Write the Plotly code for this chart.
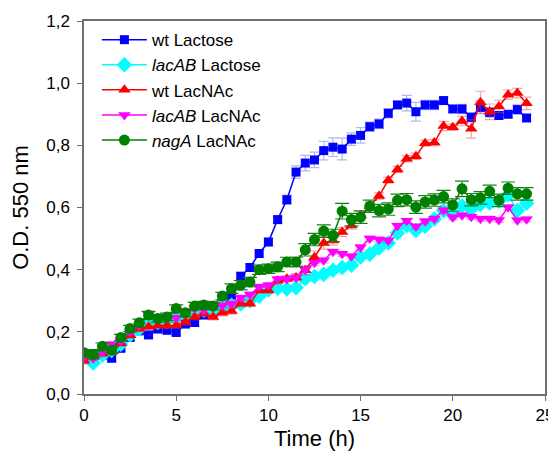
import plotly.graph_objects as go

time_h = [i * 0.5 for i in range(49)]

wt_lactose = [0.130, 0.130, 0.125, 0.115, 0.147, 0.182, 0.203, 0.190, 0.209, 0.205,
              0.198, 0.225, 0.230, 0.254, 0.262, 0.280, 0.318, 0.379, 0.407, 0.452,
              0.489, 0.561, 0.625, 0.714, 0.743, 0.753, 0.783, 0.794, 0.788, 0.820,
              0.832, 0.860, 0.869, 0.903, 0.930, 0.936, 0.908, 0.930, 0.930, 0.944,
              0.917, 0.917, 0.890, 0.922, 0.906, 0.896, 0.900, 0.915, 0.888]
wt_lactose_err = [0.010, 0.010, 0.010, 0.010, 0.010, 0.010, 0.010, 0.010, 0.010, 0.010,
                  0.010, 0.010, 0.010, 0.010, 0.010, 0.010, 0.010, 0.010, 0.010, 0.012,
                  0.012, 0.012, 0.015, 0.020, 0.025, 0.025, 0.030, 0.030, 0.035, 0.020,
                  0.025, 0.015, 0.015, 0.015, 0.010, 0.025, 0.030, 0.015, 0.015, 0.010,
                  0.010, 0.015, 0.015, 0.020, 0.015, 0.010, 0.010, 0.015, 0.010]

lacab_lactose = [0.120, 0.100, 0.125, 0.140, 0.160, 0.190, 0.210, 0.230, 0.230, 0.235,
                 0.245, 0.255, 0.265, 0.270, 0.265, 0.280, 0.285, 0.290, 0.300, 0.315,
                 0.335, 0.340, 0.338, 0.342, 0.371, 0.378, 0.385, 0.398, 0.407, 0.414,
                 0.441, 0.450, 0.470, 0.486, 0.518, 0.542, 0.526, 0.540, 0.563, 0.590,
                 0.577, 0.605, 0.595, 0.610, 0.615, 0.620, 0.640, 0.590, 0.614]
lacab_lactose_err = [0.008] * 49

wt_lacnac = [0.107, 0.120, 0.130, 0.136, 0.163, 0.189, 0.210, 0.216, 0.220, 0.220,
             0.221, 0.232, 0.248, 0.259, 0.248, 0.261, 0.267, 0.291, 0.291, 0.334,
             0.334, 0.364, 0.371, 0.375, 0.398, 0.440, 0.486, 0.494, 0.521, 0.542,
             0.575, 0.605, 0.637, 0.688, 0.722, 0.757, 0.765, 0.807, 0.809, 0.862,
             0.858, 0.878, 0.853, 0.939, 0.908, 0.925, 0.963, 0.968, 0.935]
wt_lacnac_err = [0.010, 0.010, 0.010, 0.010, 0.010, 0.010, 0.010, 0.010, 0.010, 0.010,
                 0.010, 0.010, 0.010, 0.010, 0.010, 0.010, 0.010, 0.010, 0.010, 0.010,
                 0.010, 0.010, 0.010, 0.012, 0.015, 0.020, 0.020, 0.015, 0.015, 0.012,
                 0.012, 0.012, 0.010, 0.010, 0.010, 0.010, 0.010, 0.010, 0.010, 0.015,
                 0.010, 0.015, 0.030, 0.035, 0.025, 0.020, 0.015, 0.015, 0.020]

lacab_lacnac = [0.120, 0.115, 0.135, 0.160, 0.170, 0.200, 0.220, 0.255, 0.245, 0.245,
                0.245, 0.260, 0.275, 0.270, 0.280, 0.285, 0.290, 0.310, 0.320, 0.345,
                0.350, 0.370, 0.370, 0.375, 0.400, 0.422, 0.430, 0.458, 0.451, 0.443,
                0.472, 0.500, 0.497, 0.494, 0.541, 0.557, 0.539, 0.556, 0.564, 0.591,
                0.569, 0.575, 0.570, 0.564, 0.564, 0.560, 0.601, 0.559, 0.562]
lacab_lacnac_err = [0.008] * 49

naga_lacnac = [0.133, 0.127, 0.154, 0.141, 0.182, 0.211, 0.229, 0.254, 0.243, 0.248,
               0.275, 0.261, 0.283, 0.286, 0.283, 0.315, 0.339, 0.350, 0.360, 0.400,
               0.403, 0.409, 0.425, 0.425, 0.464, 0.497, 0.524, 0.510, 0.588, 0.561,
               0.569, 0.604, 0.590, 0.595, 0.623, 0.625, 0.601, 0.618, 0.624, 0.635,
               0.608, 0.660, 0.625, 0.631, 0.652, 0.623, 0.662, 0.644, 0.644]
naga_lacnac_err = [0.010, 0.010, 0.010, 0.010, 0.010, 0.010, 0.012, 0.012, 0.012, 0.012,
                   0.012, 0.012, 0.012, 0.012, 0.012, 0.012, 0.015, 0.015, 0.015, 0.015,
                   0.015, 0.015, 0.015, 0.015, 0.020, 0.020, 0.020, 0.020, 0.025, 0.020,
                   0.020, 0.020, 0.020, 0.020, 0.020, 0.020, 0.020, 0.020, 0.020, 0.020,
                   0.020, 0.025, 0.020, 0.020, 0.020, 0.020, 0.020, 0.020, 0.020]

series_names = ["wt Lactose", "<i>lacAB</i> Lactose", "wt LacNAc",
                "<i>lacAB</i> LacNAc", "<i>nagA</i> LacNAc"]

y_ticks = [0.0, 0.2, 0.4, 0.6, 0.8, 1.0, 1.2]
y_tick_labels = ["0,0", "0,2", "0,4", "0,6", "0,8", "1,0", "1,2"]
x_ticks = [0, 5, 10, 15, 20, 25]

styles = [
    dict(color="#0000ff", symbol="square", size=9, ecolor="rgba(90,90,220,0.45)", ew=5),
    dict(color="#00ffff", symbol="diamond", size=12, ecolor="rgba(0,200,200,0.35)", ew=5),
    dict(color="#ff0000", symbol="triangle-up", size=11, ecolor="rgba(220,60,60,0.45)", ew=5),
    dict(color="#ff00ff", symbol="triangle-down", size=11, ecolor="rgba(200,0,200,0.35)", ew=5),
    dict(color="#008000", symbol="circle", size=11, ecolor="#1a801a", ew=7),
]
data = [(wt_lactose, wt_lactose_err), (lacab_lactose, lacab_lactose_err),
        (wt_lacnac, wt_lacnac_err), (lacab_lacnac, lacab_lacnac_err),
        (naga_lacnac, naga_lacnac_err)]

fig = go.Figure()
for name, (vals, errs), st in zip(series_names, data, styles):
    fig.add_trace(go.Scatter(
        x=time_h, y=vals, name=name, mode="lines+markers",
        line=dict(color=st["color"], width=1.5),
        marker=dict(color=st["color"], symbol=st["symbol"], size=st["size"], line=dict(width=0)),
        error_y=dict(type="data", array=errs, visible=True, color=st["ecolor"],
                     thickness=1.2, width=st["ew"]),
    ))

axis_color = "#707070"
font_family = "Arial, Liberation Sans, sans-serif"
# the page body adds an 8 px offset, so the figure is 8 px smaller each way
fig.update_layout(
    template="none",
    width=548, height=452,
    margin=dict(l=76, r=11, t=13, b=66, autoexpand=False),
    paper_bgcolor="white", plot_bgcolor="white",
    font=dict(family=font_family, color="black", size=17),
    showlegend=True,
    legend=dict(x=0.028, y=0.997, xanchor="left", yanchor="top",
                bgcolor="rgba(0,0,0,0)", borderwidth=0, itemwidth=45,
                font=dict(size=17, family=font_family)),
    xaxis=dict(range=[0, 25], tickvals=x_ticks, ticks="outside", ticklen=5,
               tickcolor=axis_color, showline=True, linecolor=axis_color, linewidth=1.5,
               mirror=True, showgrid=False, zeroline=False, automargin=False,
               title=dict(text="Time (h)", font=dict(size=22), standoff=6),
               tickfont=dict(size=17)),
    yaxis=dict(range=[0, 1.2], tickvals=y_ticks, ticktext=y_tick_labels, ticks="outside",
               ticklen=5, tickcolor=axis_color, showline=True, linecolor=axis_color,
               linewidth=1.5, mirror=True, showgrid=False, zeroline=False, automargin=False,
               ticklabelstandoff=4,
               title=dict(text="O.D. 550 nm", font=dict(size=22), standoff=18),
               tickfont=dict(size=17)),
)

fig.write_html("out.html")
